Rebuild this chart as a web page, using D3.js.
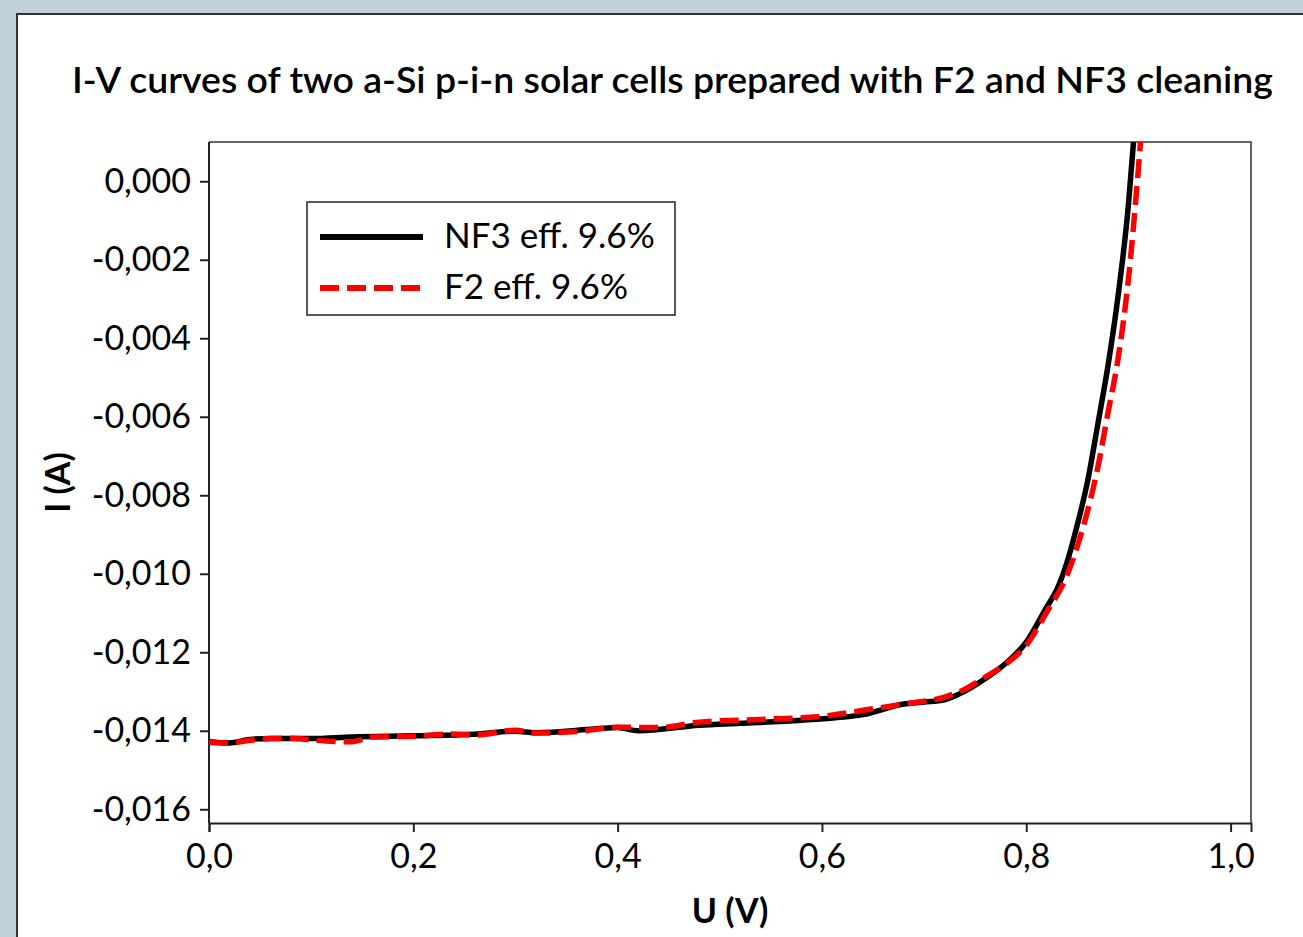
<!DOCTYPE html>
<html>
<head>
<meta charset="utf-8">
<script src="https://cdn.jsdelivr.net/npm/d3@7"></script>
<style>
  html, body { margin: 0; padding: 0; background: #c0d1d9; }
  svg { display: block; }
  text { font-family: Lato, 'Open Sans', sans-serif; fill: #000; }
</style>
</head>
<body>
<script>
// voltage (V) / current (A)
const voltageNF3 = [0, 0.02, 0.04, 0.06, 0.1, 0.14, 0.2, 0.26, 0.3, 0.32, 0.38, 0.4, 0.42, 0.48, 0.52, 0.58,
  0.64, 0.68, 0.7, 0.72, 0.74, 0.76, 0.78, 0.8, 0.82, 0.83, 0.84, 0.85, 0.86, 0.87, 0.88, 0.89, 0.9, 0.905]
const currentNF3 = [-0.01428, -0.01431, -0.01422, -0.0142, -0.0142, -0.01416, -0.01413, -0.01409, -0.01401, -0.01405,
  -0.01395, -0.01392, -0.014, -0.01386, -0.01381, -0.01373, -0.01359, -0.01332, -0.01327, -0.01321, -0.01299,
  -0.01267, -0.01228, -0.01174, -0.01085, -0.0104, -0.0097, -0.00875, -0.00765, -0.0062, -0.0047, -0.0029,
  -0.0006, 0.001]

const voltageF2 = [0, 0.02, 0.04, 0.06, 0.08, 0.1, 0.12, 0.14, 0.16, 0.2, 0.24, 0.26, 0.3, 0.32, 0.36, 0.4, 0.44,
  0.48, 0.54, 0.6, 0.64, 0.68, 0.72, 0.74, 0.76, 0.78, 0.8, 0.82, 0.84, 0.85, 0.86, 0.87, 0.88, 0.89, 0.9, 0.91, 0.912]
const currentF2 = [-0.0143, -0.01431, -0.01424, -0.0142, -0.01419, -0.01423, -0.01427, -0.01428, -0.01416, -0.01414,
  -0.01408, -0.01411, -0.01399, -0.01406, -0.01402, -0.01391, -0.01392, -0.01378, -0.01371, -0.01363, -0.01348,
  -0.01332, -0.01314, -0.01294, -0.01263, -0.0123, -0.01182, -0.01098, -0.01003, -0.0093, -0.0084, -0.0073,
  -0.0059, -0.0045, -0.0025, 0.0004, 0.00105]

const xTicks = [0, 0.2, 0.4, 0.6, 0.8, 1.0]
const yTicks = [0, -0.002, -0.004, -0.006, -0.008, -0.01, -0.012, -0.014, -0.016]

const seriesNames = ['NF3 eff. 9.6%', 'F2 eff. 9.6%']
const title = 'I-V curves of two a-Si p-i-n solar cells prepared with F2 and NF3 cleaning'

const width = 1303
const height = 937
const margin = {top: 142, right: 52, bottom: 114, left: 209}
const innerWidth = width - margin.left - margin.right
const innerHeight = height - margin.top - margin.bottom

const svg = d3.select('body').append('svg')
  .attr('width', width)
  .attr('height', height)

// white page panel with a dark edge
svg.append('rect')
  .attr('x', 17).attr('y', 14)
  .attr('width', width).attr('height', height)
  .attr('fill', '#fff')
  .attr('stroke', '#333')
  .attr('stroke-width', 2)

svg.append('text')
  .attr('x', 72).attr('y', 93)
  .attr('font-size', 37)
  .attr('font-weight', 600)
  .attr('textLength', 1201)
  .attr('lengthAdjust', 'spacingAndGlyphs')
  .text(title)

const x = d3.scaleLinear().domain([0, 1.02]).range([0, innerWidth])
const y = d3.scaleLinear().domain([-0.01635, 0.001]).range([innerHeight, 0])

const g = svg.append('g').attr('transform', `translate(${margin.left},${margin.top})`)

g.append('clipPath').attr('id', 'plot-clip')
  .append('rect').attr('width', innerWidth).attr('height', innerHeight)

// top / right frame
g.append('path')
  .attr('d', `M0,0H${innerWidth}V${innerHeight}`)
  .attr('fill', 'none')
  .attr('stroke', '#333')
  .attr('stroke-width', 1.5)

const fmt = d => d3.format('.3f')(d).replace('.', ',').replace('−', '-')
const xAxis = g.append('g')
  .attr('transform', `translate(0,${innerHeight})`)
  .call(d3.axisBottom(x).tickValues(xTicks).tickSize(9).tickPadding(12)
    .tickFormat(d => d3.format('.1f')(d).replace('.', ',')))
const yAxis = g.append('g')
  .call(d3.axisLeft(y).tickValues(yTicks).tickSize(9).tickPadding(9).tickFormat(fmt))

for (const axis of [xAxis, yAxis]) {
  axis.select('.domain').attr('stroke', '#222').attr('stroke-width', 2)
  axis.selectAll('.tick line').attr('stroke', '#222').attr('stroke-width', 2)
  axis.selectAll('.tick text').attr('font-size', 34).attr('font-family', 'Lato, sans-serif').attr('fill', '#000')
}
// keep the left axis line running down to the x axis
yAxis.select('.domain').attr('d', `M0,0V${innerHeight}`)

g.append('text')
  .attr('x', innerWidth / 2).attr('y', 781)
  .attr('text-anchor', 'middle')
  .attr('font-size', 34).attr('font-weight', 700)
  .text('U (V)')

g.append('text')
  .attr('transform', `translate(-139,${innerHeight / 2}) rotate(-90)`)
  .attr('text-anchor', 'middle')
  .attr('font-size', 34).attr('font-weight', 700)
  .text('I (A)')

const line = d3.line().x(d => x(d[0])).y(d => y(d[1])).curve(d3.curveMonotoneX)
const curves = g.append('g').attr('clip-path', 'url(#plot-clip)')

curves.append('path')
  .attr('d', line(d3.zip(voltageNF3, currentNF3)))
  .attr('fill', 'none')
  .attr('stroke', '#000')
  .attr('stroke-width', 5.5)
  .attr('stroke-linejoin', 'round')

curves.append('path')
  .attr('d', line(d3.zip(voltageF2, currentF2)))
  .attr('fill', 'none')
  .attr('stroke', '#f00')
  .attr('stroke-width', 5.5)
  .attr('stroke-dasharray', '19,8')

// legend
const legend = svg.append('g').attr('transform', 'translate(307,202)')
legend.append('rect')
  .attr('width', 368).attr('height', 113)
  .attr('fill', '#fff').attr('stroke', '#222').attr('stroke-width', 1.5)

const styles = [{color: '#000', dash: null}, {color: '#f00', dash: '19,8'}]
seriesNames.forEach((name, i) => {
  const row = legend.append('g').attr('transform', `translate(0,${35 + i * 51})`)
  row.append('line')
    .attr('x1', 13).attr('x2', 116)
    .attr('stroke', styles[i].color)
    .attr('stroke-width', 6)
    .attr('stroke-dasharray', styles[i].dash)
  row.append('text')
    .attr('x', 137).attr('y', 11)
    .attr('font-size', 35)
    .text(name)
})
</script>
</body>
</html>
